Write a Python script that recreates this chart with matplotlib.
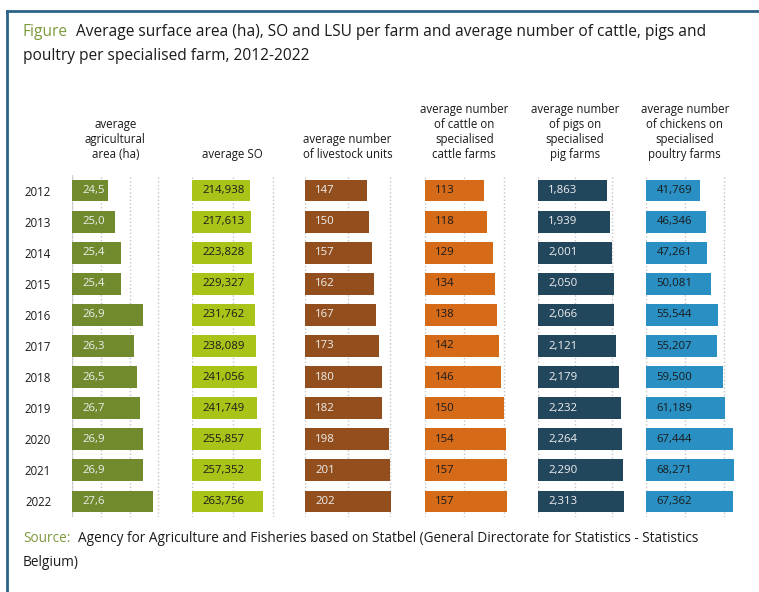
import matplotlib
matplotlib.use("Agg")
import matplotlib.pyplot as plt
from matplotlib.lines import Line2D

plt.rcParams['font.family'] = ['Open Sans', 'DejaVu Sans']

years = ['2012', '2013', '2014', '2015', '2016', '2017', '2018', '2019', '2020', '2021', '2022']
area_ha = [24.5, 25.0, 25.4, 25.4, 26.9, 26.3, 26.5, 26.7, 26.9, 26.9, 27.6]
so = [214938, 217613, 223828, 229327, 231762, 238089, 241056, 241749, 255857, 257352, 263756]
lsu = [147, 150, 157, 162, 167, 173, 180, 182, 198, 201, 202]
cattle = [113, 118, 129, 134, 138, 142, 146, 150, 154, 157, 157]
pigs = [1863, 1939, 2001, 2050, 2066, 2121, 2179, 2232, 2264, 2290, 2313]
chickens = [41769, 46346, 47261, 50081, 55544, 55207, 59500, 61189, 67444, 68271, 67362]

headers = ['average\nagricultural\narea (ha)', 'average SO',
           'average number\nof livestock units',
           'average number\nof cattle on\nspecialised\ncattle farms',
           'average number\nof pigs on\nspecialised\npig farms',
           'average number\nof chickens on\nspecialised\npoultry farms']

W, H = 759, 592
fig = plt.figure(figsize=(W / 100, H / 100), dpi=100)

# panel layout: pixel x of first and last gridline, gridline values, colours
panels = [
    (area_ha, 72, 158.4, [22, 24, 26, 28], '#718a2e', '#f0f0f0'),
    (so, 192, 273, [0, 150000, 300000], '#a9c318', '#1a1a1a'),
    (lsu, 305, 390, [0, 100, 200], '#924f1d', '#f0f0f0'),
    (cattle, 425, 503.5, [0, 75, 150], '#d56a19', '#1a1a1a'),
    (pigs, 538, 612, [0, 1000, 2000], '#22465c', '#f0f0f0'),
    (chickens, 646, 723.5, [0, 30000, 60000], '#2a90c3', '#1a1a1a'),
]

top, bot = 175, 517
for k, (vals, x0, x1, ticks, col, tcol) in enumerate(panels):
    ppu = (x1 - x0) / (ticks[-1] - ticks[0])
    wpx = 98
    ax = fig.add_axes([x0 / W, 1 - bot / H, wpx / W, (bot - top) / H])
    lo = ticks[0]
    ax.barh(range(len(years)), [v - lo for v in vals], left=lo, height=0.7, color=col, zorder=2)
    ax.set_xlim(lo, lo + wpx / ppu)
    ax.set_ylim(len(years) - 0.5, -0.5)
    ax.set_xticks(ticks)
    ax.grid(axis='x', linestyle=':', color='#c4c4c4', linewidth=1, zorder=0)
    ax.tick_params(axis='x', length=0, labelbottom=False)
    for s in ax.spines.values():
        s.set_visible(False)
    if k == 0:
        ax.axvline(lo, color='#d4d4d4', linewidth=1, zorder=1)
        ax.set_yticks(range(len(years)), years)
        ax.tick_params(axis='y', length=0, pad=15, labelsize=8.3, labelcolor='#1a1a1a')
        labels = [f"{v:.1f}".replace('.', ',') for v in vals]
    else:
        ax.set_yticks([])
        labels = [f"{v:,}" for v in vals]
    for i, t in enumerate(labels):
        ax.annotate(t, xy=(lo, i), xytext=(7.5, 0), textcoords='offset points',
                    va='center', ha='left', fontsize=8.2, color=tcol, zorder=3)
    fig.text(((x0 + x1) / 2) / W, 1 - 161 / H, headers[k], ha='center', va='bottom',
             multialignment='center', fontsize=8.3, color='#1a1a1a', linespacing=1.2)

# title and source with green lead words
green = '#7b9a3c'
renderer = fig.canvas.get_renderer()


def lead_text(y, lead, rest, size):
    t = fig.text(23 / W, 1 - y / H, lead, color=green, fontsize=size, va='center')
    bb = t.get_window_extent(renderer)
    fig.text((bb.x1 + 8) / W, 1 - y / H, rest, color='#1a1a1a', fontsize=size, va='center')


lead_text(32, 'Figure', 'Average surface area (ha), SO and LSU per farm and average number of cattle, pigs and', 11.2)
fig.text(23 / W, 1 - 56 / H, 'poultry per specialised farm, 2012-2022', color='#1a1a1a', fontsize=11.2, va='center')
lead_text(539, 'Source:', 'Agency for Agriculture and Fisheries based on Statbel (General Directorate for Statistics - Statistics', 9.85)
fig.text(23 / W, 1 - 562 / H, 'Belgium)', color='#1a1a1a', fontsize=9.85, va='center')

# frame lines
frame = '#2c6389'
fig.add_artist(Line2D([7 / W, 7 / W], [0, 1 - 11 / H], color=frame, linewidth=2))
fig.add_artist(Line2D([7 / W, 1], [1 - 11 / H, 1 - 11 / H], color=frame, linewidth=2))

fig.savefig('out.png', dpi=100)
